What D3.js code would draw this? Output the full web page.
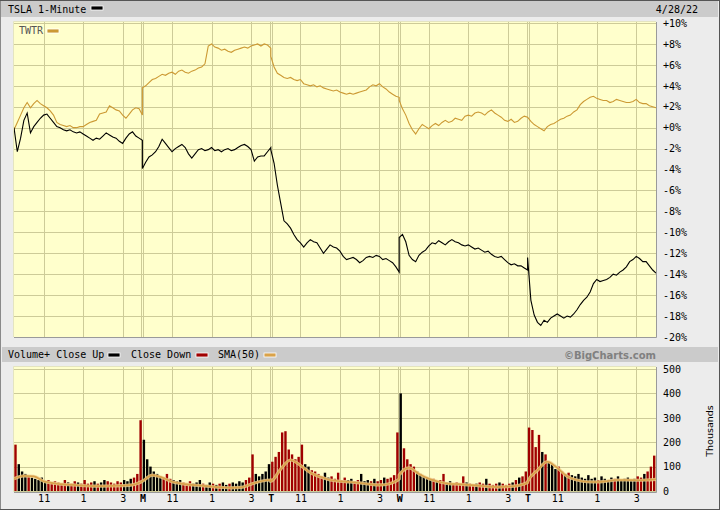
<!DOCTYPE html>
<html><head><meta charset="utf-8">
<script src="https://cdn.jsdelivr.net/npm/d3@7"></script>
<style>body{margin:0;background:#ececec}svg{display:block}</style>
</head><body><svg id="c" width="720" height="510"></svg>
<script>
// ---------------- DATA ----------------
const title = "TSLA 1-Minute";
const compareSymbol = "TWTR";
const dateLabel = "4/28/22";
const dayLetters = ["F", "M", "T", "W", "T"];      // trading days (first one unlabeled)
const openTime = "9:30", closeTime = "16:00";
const hourTickTimes = ["11:00", "13:00", "15:00"];
const hourTickLabels = ["11", "1", "3"];
const pctTicks = [10, 8, 6, 4, 2, 0, -2, -4, -6, -8, -10, -12, -14, -16, -18, -20];
const volTicks = [0, 100, 200, 300, 400, 500];
const sampleStep = 10;   // minutes between price / volume samples
const smaStep = 30;      // minutes between SMA samples

// TSLA % change, one row per day, every 10 min from 9:30 to 16:00
const tslaPct = [
  [0.0,-2.3,-1.0,0.7,1.4,-0.5,0.1,0.5,0.9,1.2,1.3,0.9,0.5,0.1,0.0,-0.2,-0.3,-0.2,-0.4,-0.5,-0.4,-0.6,-0.8,-1.0,-1.2,-1.0,-1.1,-0.8,-0.5,-0.7,-0.9,-1.0,-1.3,-1.5,-1.0,-0.6,-0.4,-0.8,-1.0,-1.2],
  [-3.9,-3.3,-2.8,-2.6,-2.3,-1.8,-1.1,-1.5,-1.9,-2.3,-2.0,-1.8,-1.6,-1.9,-2.5,-2.9,-2.5,-2.1,-2.0,-2.2,-2.1,-1.9,-2.2,-2.1,-2.3,-2.1,-2.0,-2.2,-2.1,-1.9,-1.7,-1.6,-1.8,-2.1,-3.2,-2.8,-2.7,-2.7,-2.3,-1.9],
  [-2.1,-3.4,-5.5,-7.2,-8.9,-9.2,-9.6,-10.2,-10.7,-11.0,-11.4,-11.0,-10.7,-10.9,-11.0,-11.5,-12.0,-11.6,-11.2,-11.4,-11.5,-11.8,-12.3,-12.6,-12.5,-12.4,-12.6,-12.9,-12.7,-12.4,-12.3,-12.4,-12.2,-12.3,-12.6,-12.5,-12.7,-12.9,-13.3,-13.8],
  [-10.5,-10.2,-10.9,-12.2,-12.6,-12.8,-12.2,-11.9,-11.7,-11.3,-11.0,-11.1,-10.8,-11.0,-11.2,-10.9,-10.7,-10.9,-11.0,-11.2,-11.3,-11.2,-11.4,-11.6,-11.5,-11.7,-11.9,-11.8,-12.1,-12.3,-12.4,-12.3,-12.6,-12.9,-13.1,-13.0,-13.2,-13.2,-13.4,-13.6],
  [-12.4,-16.5,-17.9,-18.6,-18.9,-18.4,-18.6,-18.2,-18.0,-17.8,-18.0,-18.2,-18.0,-18.1,-17.8,-17.4,-16.9,-16.5,-16.2,-15.7,-14.9,-14.5,-14.7,-14.6,-14.5,-14.3,-14.0,-14.1,-13.8,-13.6,-13.3,-12.8,-12.6,-12.3,-12.5,-12.8,-12.8,-13.2,-13.6,-13.9]
];
// TWTR % change, same sampling
const twtrPct = [
  [-0.2,0.5,1.2,1.9,2.4,1.9,2.3,2.6,2.3,2.1,1.9,1.6,1.2,0.5,0.3,0.2,0.1,0.2,0.0,0.0,0.1,0.1,0.3,0.5,0.6,0.7,1.3,1.4,1.5,2.1,1.9,1.7,1.6,1.2,0.9,1.3,1.7,1.9,1.8,1.2],
  [3.8,4.0,4.3,4.6,4.7,4.9,5.1,5.0,5.2,5.3,5.1,5.4,5.5,5.3,5.2,5.4,5.5,5.7,5.8,6.1,7.8,8.0,7.7,7.6,7.4,7.5,7.3,7.2,7.4,7.5,7.6,7.7,7.6,7.8,7.9,8.0,7.8,8.0,7.9,7.6],
  [6.8,5.8,5.2,5.0,4.8,4.7,4.8,4.6,4.5,4.6,4.2,4.1,4.0,4.1,3.9,4.0,3.8,3.7,3.6,3.5,3.6,3.4,3.3,3.2,3.3,3.2,3.3,3.4,3.5,3.6,3.9,4.1,4.0,4.2,3.9,3.7,3.4,3.2,3.0,2.9],
  [2.6,1.8,1.2,0.4,-0.2,-0.6,-0.1,0.3,0.1,-0.1,0.2,0.4,0.2,0.5,0.7,0.5,0.6,0.9,0.8,0.7,1.1,1.2,1.1,1.4,1.5,1.4,1.2,1.5,1.7,1.4,1.2,1.0,0.7,0.6,0.8,0.5,0.6,0.9,1.1,1.0],
  [1.0,0.6,0.3,0.1,-0.1,-0.3,0.1,0.3,0.4,0.6,0.8,0.9,1.1,1.2,1.5,1.7,2.2,2.5,2.7,2.9,3.0,2.8,2.7,2.6,2.6,2.4,2.5,2.7,2.6,2.5,2.4,2.4,2.5,2.7,2.4,2.3,2.3,2.1,2.0,1.9]
];
// TSLA volume (thousands), one bar per 10-minute slot
const volumeK = [
  [190,110,80,70,60,55,50,45,55,40,45,35,40,35,30,45,35,30,40,35,30,45,30,35,40,30,35,45,40,35,30,40,35,45,40,50,55,70,290],
  [210,130,100,80,70,60,55,70,50,45,40,45,35,30,40,30,35,45,30,25,35,30,25,30,35,25,30,35,30,40,35,45,55,150,70,60,70,80,110],
  [120,140,160,240,245,170,150,130,140,190,110,100,85,80,70,60,75,55,60,50,75,45,55,45,50,40,45,70,40,45,40,50,40,45,55,50,55,65,240],
  [400,175,130,110,100,80,70,60,55,45,50,40,45,70,35,40,30,35,30,60,35,30,25,30,35,30,50,30,25,30,35,30,25,30,35,45,55,60,80],
  [260,250,180,230,160,150,120,110,90,100,80,70,75,65,60,70,55,50,65,50,55,45,60,50,45,55,50,60,45,50,55,45,50,60,55,70,80,100,145]
];
// SMA(50) of volume (thousands), every 30 minutes
const smaK = [
  [50,62,60,40,32,27,25,22,20,20,21,22,25,40],
  [40,65,55,38,30,25,22,18,15,13,15,28,40,45],
  [40,90,127,105,75,58,45,40,37,33,28,25,30,50],
  [65,95,70,50,38,30,28,25,22,18,16,18,22,35],
  [38,85,120,95,60,45,38,37,40,45,45,44,45,48]
];

// ---------------- CHART ----------------
const toMin = s => { const [h, m] = s.split(":").map(Number); return h * 60 + m; };
const dayLen = toMin(closeTime) - toMin(openTime);
const nDays = dayLetters.length;
const tOf = (d, minutes) => d * dayLen + minutes;

const L = 14, R = 656, T1 = 23, B1 = 337, T2 = 369, B2 = 491;
const mono = "DejaVu Sans Mono, monospace";
const gridC = "#cdcb98", tslaC = "#000000", twtrC = "#cc9933", downC = "#a00000", smaC = "#d9a24a";

const svg = d3.select("#c");
const x = d3.scaleLinear().domain([0, dayLen * nDays]).range([L, R]);
const y = d3.scaleLinear().domain([d3.min(pctTicks), d3.max(pctTicks)]).range([B1, T1]);
const yv = d3.scaleLinear().domain([0, d3.max(volTicks)]).range([B2, T2]);

// background + frame
svg.append("rect").attr("width", 720).attr("height", 510).attr("fill", "#ececec");
svg.append("rect").attr("x", 1).attr("y", 1).attr("width", 717).attr("height", 16).attr("fill", "#cbcbcb");
svg.append("rect").attr("x", 2).attr("y", 347).attr("width", 716).attr("height", 15).attr("fill", "#cbcbcb");
svg.append("path").attr("d", "M0.5,510V0.5H719.5V509.5H0").attr("fill", "none").attr("stroke", "#8a8a8a");
svg.append("path").attr("d", "M0,0.5H720M719.5,0V510M0,509.5H720").attr("fill", "none").attr("stroke", "#555");

// panels
function panel(top, bottom, yScale, ticks) {
  const g = svg.append("g");
  g.append("rect").attr("x", L).attr("y", top - 1).attr("width", R - L).attr("height", bottom - top + 1).attr("fill", "#ffffcc");
  // horizontal grid
  g.selectAll(null).data(ticks).enter().append("line")
    .attr("x1", L).attr("x2", R).attr("y1", d => Math.round(yScale(d)) + 0.5).attr("y2", d => Math.round(yScale(d)) + 0.5)
    .attr("stroke", gridC);
  // vertical grid: hours
  const hourTs = [];
  for (let d = 0; d < nDays; d++) hourTickTimes.forEach(h => hourTs.push(tOf(d, toMin(h) - toMin(openTime))));
  g.selectAll(null).data(hourTs).enter().append("line")
    .attr("x1", d => Math.round(x(d)) + 0.5).attr("x2", d => Math.round(x(d)) + 0.5)
    .attr("y1", top - 1).attr("y2", bottom).attr("stroke", gridC);
  // day boundaries (double lines)
  const dayTs = d3.range(1, nDays).map(d => tOf(d, 0));
  [-1, 1].forEach(off => {
    g.selectAll(null).data(dayTs).enter().append("line")
      .attr("x1", d => Math.round(x(d)) + off + 0.5).attr("x2", d => Math.round(x(d)) + off + 0.5)
      .attr("y1", top - 1).attr("y2", bottom).attr("stroke", gridC);
  });
  return g;
}
panel(T1, B1, y, pctTicks);
panel(T2 - 1, B2, yv, volTicks);

// volume bars
const step = x(sampleStep) - x(0);
const bars = [];
volumeK.forEach((row, d) => row.forEach((v, i) => {
  const up = tslaPct[d][i + 1] >= tslaPct[d][i];
  bars.push({ t: tOf(d, i * sampleStep), v, up });
}));
svg.append("g").selectAll("rect").data(bars).enter().append("rect")
  .attr("x", d => x(d.t) + 0.3).attr("width", step - 0.9)
  .attr("y", d => yv(d.v)).attr("height", d => B2 - yv(d.v))
  .attr("fill", d => d.up ? "#000" : downC);

// SMA
const smaPts = [];
smaK.forEach((row, d) => row.forEach((v, i) => smaPts.push({ t: tOf(d, i * smaStep), v })));
svg.append("path").datum(smaPts)
  .attr("d", d3.line().x(d => x(d.t)).y(d => yv(d.v)).curve(d3.curveMonotoneX))
  .attr("fill", "none").attr("stroke", "#f0cf90").attr("stroke-width", 3.2).attr("opacity", 0.8);
svg.append("path").datum(smaPts)
  .attr("d", d3.line().x(d => x(d.t)).y(d => yv(d.v)).curve(d3.curveMonotoneX))
  .attr("fill", "none").attr("stroke", smaC).attr("stroke-width", 1.6);

// price lines
function series(data) {
  const pts = [];
  data.forEach((row, d) => row.forEach((v, i) => pts.push({ t: tOf(d, i * sampleStep), v })));
  return pts;
}
const priceLine = d3.line().x(d => x(d.t)).y(d => y(d.v));
svg.append("path").datum(series(twtrPct)).attr("d", priceLine)
  .attr("fill", "none").attr("stroke", twtrC).attr("stroke-width", 1.1);
svg.append("path").datum(series(tslaPct)).attr("d", priceLine)
  .attr("fill", "none").attr("stroke", tslaC).attr("stroke-width", 1.1);

// panel borders (shadowed)
[[T1 - 1, B1], [T2 - 2, B2 + 1]].forEach(([t, b]) => {
  svg.append("path").attr("d", `M${L - 0.5},${b}V${t - 0.5}H${R}`).attr("fill", "none").attr("stroke", "#e4e4c0");
  svg.append("path").attr("d", `M${L},${b + 0.5}H${R + 0.5}V${t}`).attr("fill", "none").attr("stroke", "#9a9a9a");
});

// right axes
const pctFmt = d => (d >= 0 ? "+" : "") + d + "%";
const ax1 = svg.append("g").attr("transform", `translate(${R},0)`)
  .call(d3.axisRight(y).tickValues(pctTicks).tickFormat(pctFmt).tickSize(0).tickPadding(7));
const ax2 = svg.append("g").attr("transform", `translate(${R},0)`)
  .call(d3.axisRight(yv).tickValues(volTicks).tickSize(0).tickPadding(7));
[ax1, ax2].forEach(a => {
  a.select(".domain").remove();
  a.selectAll("text").attr("font-family", mono).attr("font-size", 10).attr("fill", "#000");
});

// bottom time axis
const tickTs = [], tickLab = [], tickBold = [];
for (let d = 0; d < nDays; d++) {
  if (d > 0) { tickTs.push(tOf(d, 0)); tickLab.push(dayLetters[d]); tickBold.push(true); }
  hourTickTimes.forEach((h, k) => { tickTs.push(tOf(d, toMin(h) - toMin(openTime))); tickLab.push(hourTickLabels[k]); tickBold.push(false); });
}
const axB = svg.append("g").attr("transform", `translate(0,${B2 + 1})`)
  .call(d3.axisBottom(x).tickValues(tickTs).tickFormat((d, i) => tickLab[i]).tickSize(0).tickPadding(3));
axB.select(".domain").remove();
axB.selectAll("text").attr("font-family", mono).attr("font-size", 10).attr("fill", "#000")
  .attr("font-weight", (d, i) => tickBold[i] ? "bold" : "normal");

// header texts
const txt = (s, xx, yy, opts = {}) => svg.append("text").attr("x", xx).attr("y", yy).text(s)
  .attr("font-family", opts.family || mono).attr("font-size", opts.size || 10)
  .attr("fill", opts.fill || "#000").attr("font-weight", opts.weight || "normal")
  .attr("text-anchor", opts.anchor || "start");
const sw = (xx, yy, c) => svg.append("rect").attr("x", xx).attr("y", yy).attr("width", 12).attr("height", 4).attr("fill", c)
  .attr("stroke", "#fff").attr("stroke-width", 0.8);

txt(title, 8, 12.5);
sw(91, 6, tslaC);
txt(dateLabel, 698, 12.5, { anchor: "end" });
txt(compareSymbol, 19, 34, { fill: "#555" });
sw(47, 29, twtrC);

txt("Volume+ Close Up", 8, 358);
sw(108, 353, "#000");
txt("Close Down", 131, 358);
sw(196, 353, downC);
txt("SMA(50)", 218, 358);
sw(264, 353, smaC);
txt("\u00A9BigCharts.com", 656, 358.5, { anchor: "end", weight: "bold", fill: "#808080", family: "DejaVu Sans, sans-serif", size: 10 });

svg.append("text").attr("transform", "translate(713,431) rotate(-90)").attr("text-anchor", "middle")
  .attr("font-family", "DejaVu Sans, sans-serif").attr("font-size", 9.5).text("Thousands");
</script></body></html>
